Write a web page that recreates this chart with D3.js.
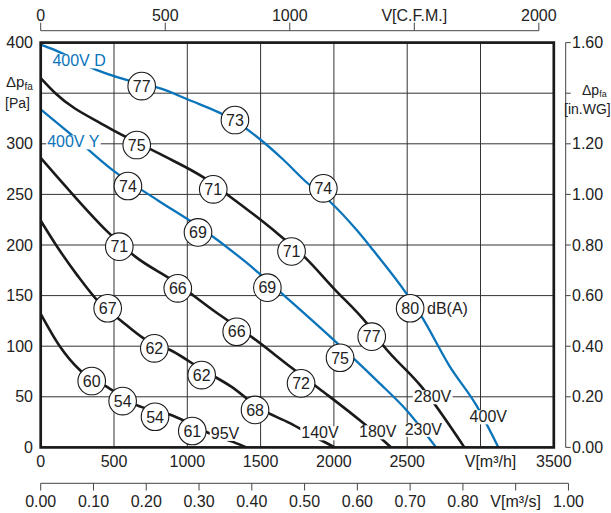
<!DOCTYPE html>
<html><head><meta charset="utf-8">
<script src="https://cdn.jsdelivr.net/npm/d3@7"></script>
<style>
body{margin:0;background:#fff}
svg{display:block;font-family:"Liberation Sans",Arial,Helvetica,sans-serif}
</style>
</head><body>
<svg id="c" width="611" height="513"></svg>
<script>
// ---------- tick values & labels ----------
const flowTicks = [0, 500, 1000, 1500, 2000, 2500, 3000, 3500];
const flowLabels = ["0", "500", "1000", "1500", "2000", "2500", "", "3500"];
const flowAxisTitle = "V[m³/h]";
const pressTicks = [0, 50, 100, 150, 200, 250, 300, 350, 400];
const pressLabels = ["0", "50", "100", "150", "200", "250", "300", "", "400"];
const cfmTicks = [0, 500, 1000, 1500, 2000];
const cfmLabels = ["0", "500", "1000", "V[C.F.M.]", "2000"];
const m3sTicks = [0, 0.1, 0.2, 0.3, 0.4, 0.5, 0.6, 0.7, 0.8, 0.9, 1.0];
const m3sLabels = ["0.00", "0.10", "0.20", "0.30", "0.40", "0.50", "0.60", "0.70", "0.80", "V[m³/s]", "1.00"];
const inwgTicks = [0, 0.2, 0.4, 0.6, 0.8, 1.0, 1.2, 1.4, 1.6];
const inwgLabels = ["0.00", "0.20", "0.40", "0.60", "0.80", "1.00", "1.20", "", "1.60"];

// ---------- characteristic curves [m³/h, Pa] ----------
const curve400D = [[0,398],[90,393],[380,373],[690,359],[810,355],[1000,344],[1320,323],[1500,304],[1650,285],[1813,262],[1972,243],[2154,215],[2267,195],[2495,152],[2600,129],[2790,80],[2970,42],[3122,0]];
const curve280 = [[0,365],[100,350],[450,317],[813,290],[1108,267],[1290,248],[1585,215],[1801,188],[2000,157],[2222,123],[2335,101],[2597,60],[2890,0]];
const curve400Y = [[0,334],[200,310],[500,273],[800,244],[1100,216],[1400,183],[1700,145],[2000,106],[2300,65],[2500,36],[2697,0]];
const curve180 = [[0,286],[200,253],[450,214],[650,188],[900,165],[1200,133],[1450,108],[1700,80],[1900,58],[2200,24],[2390,0]];
const curve140 = [[0,224],[100,201],[250,170],[400,143],[550,125],[700,108],[900,95],[1100,77],[1300,60],[1500,38],[1700,24],[1850,12],[2006,0]];
const curve95 = [[0,132],[130,100],[270,76],[450,60],[650,42],[870,33],[1000,25],[1150,14],[1320,5],[1404,0]];

// ---------- sound level markers [m³/h, Pa, dB(A)] ----------
const db400D = [[689,357,77],[1325,323.5,73],[1928,256,74],[2520,137.5,80]];
const db280 = [[655,298.8,75],[1177,255,71],[1711,193.6,71],[2258,109.4,77]];
const db400Y = [[595,258.3,74],[1073,212.4,69],[1546,157.8,69],[2042,88.6,75]];
const db180 = [[536,198.3,71],[935,157.2,66],[1337,114.3,66],[1776,63.3,72]];
const db140 = [[457,137.5,67],[775,97.9,62],[1098,71.5,62],[1462,37,68]];
const db95 = [[348,65.6,60],[559,45.8,54],[780,30.3,54],[1034,16.2,61]];

// ---------- curve labels [text, m³/h, Pa] ----------
const blueLabels = [["400V D",262,382],["400V Y",222,302]];
const voltLabels = [["280V",2673,50.1],["230V",2610,17.9],["180V",2299,15.5],["140V",1905,14.5],["95V",1257,13.9],["400V",3053,30.3]];
const unitLabel = ["dB(A)",2635,137.7];

const BLUE = "#0a74bb", BLACK = "#1a1a1a", TXT = "#222";

const svg = d3.select("#c");
const x = d3.scaleLinear().domain([0,3500]).range([40.7,553.8]);
const y = d3.scaleLinear().domain([0,400]).range([447.4,42.6]);
const xc = d3.scaleLinear().domain([0,2000]).range([x(0), x(2000*1.69901)]);
const xs = d3.scaleLinear().domain([0,1]).range([x(0), x(3600)]);
const yi = d3.scaleLinear().domain([0,1.6]).range([y(0), y(400)]);

// grid
const g = svg.append("g");
g.selectAll(".vg").data(flowTicks.slice(1,-1)).join("line")
  .attr("x1",d=>x(d)).attr("x2",d=>x(d)).attr("y1",y(0)).attr("y2",y(400))
  .attr("stroke","#333").attr("stroke-width",1);
g.selectAll(".hg").data(pressTicks.slice(1,-1)).join("line")
  .attr("y1",d=>y(d)).attr("y2",d=>y(d)).attr("x1",x(0)).attr("x2",x(3500))
  .attr("stroke","#333").attr("stroke-width",1);

// curves
const line = d3.line().x(d=>x(d[0])).y(d=>y(d[1])).curve(d3.curveMonotoneX);
const curves = [
  {d:curve95,c:BLACK,w:2.6},{d:curve140,c:BLACK,w:2.6},{d:curve180,c:BLACK,w:2.6},
  {d:curve400Y,c:BLUE,w:2.3},{d:curve280,c:BLACK,w:2.6},{d:curve400D,c:BLUE,w:2.3}
];
svg.append("g").selectAll("path").data(curves).join("path")
  .attr("d",d=>line(d.d)).attr("fill","none").attr("stroke",d=>d.c).attr("stroke-width",d=>d.w);

// labels with white backgrounds
function boxedText(parent, txt, cx, cy, color, anchor){
  const gg = parent.append("g");
  const t = gg.append("text").attr("x",cx).attr("y",cy).attr("dy","0.35em")
    .attr("text-anchor",anchor||"middle").attr("font-size",16).attr("fill",color).text(txt);
  const b = t.node().getBBox();
  gg.insert("rect","text").attr("x",b.x-1).attr("y",b.y+2).attr("width",b.width+2).attr("height",b.height-3).attr("fill","#fff");
}
const lg = svg.append("g");
blueLabels.forEach(l=>boxedText(lg,l[0],x(l[1]),y(l[2]),BLUE));
voltLabels.forEach(l=>boxedText(lg,l[0],x(l[1]),y(l[2]),TXT));
lg.append("text").attr("x",x(unitLabel[1])).attr("y",y(unitLabel[2])).attr("dy","0.35em")
  .attr("font-size",16).attr("fill",TXT).text(unitLabel[0]);

// dB circles
const allDb = [].concat(db400D,db280,db400Y,db180,db140,db95);
const cg = svg.append("g").selectAll("g").data(allDb).join("g")
  .attr("transform",d=>`translate(${x(d[0])},${y(d[1])})`);
cg.append("circle").attr("r",13.8).attr("fill","#fff").attr("stroke","#1a1a1a").attr("stroke-width",1.1);
cg.append("text").attr("text-anchor","middle").attr("dy","0.36em").attr("font-size",16).attr("fill",TXT).text(d=>d[2]);

// frame
svg.append("rect").attr("x",x(0)).attr("y",y(400)).attr("width",x(3500)-x(0)).attr("height",y(0)-y(400))
  .attr("fill","none").attr("stroke","#1a1a1a").attr("stroke-width",2.7);

// left axis labels
svg.append("g").selectAll("text").data(pressTicks).join("text")
  .attr("x",33).attr("y",d=>y(d)).attr("dy","0.35em").attr("text-anchor","end")
  .attr("font-size",16).attr("fill",TXT).text((d,i)=>pressLabels[i]);
const lt = svg.append("text").attr("x",6).attr("y",87).attr("font-size",15).attr("fill",TXT);
lt.append("tspan").text("Δp");
lt.append("tspan").attr("font-size",10).attr("dy",3).text("fa");
svg.append("text").attr("x",5).attr("y",108).attr("font-size",14).attr("fill",TXT).text("[Pa]");

// bottom m3/h labels
svg.append("g").selectAll("text").data(flowTicks).join("text")
  .attr("x",d=>x(d)).attr("y",466.5).attr("text-anchor","middle")
  .attr("font-size",16).attr("fill",TXT).text((d,i)=>flowLabels[i]);
svg.append("text").attr("x",x(3000)+10).attr("y",466.5).attr("text-anchor","middle")
  .attr("font-size",16).attr("fill",TXT).text(flowAxisTitle);

// top CFM axis
const topAx = svg.append("g").attr("stroke","#444").attr("stroke-width",1);
topAx.append("line").attr("x1",xc(0)).attr("x2",xc(2000)).attr("y1",30.7).attr("y2",30.7);
topAx.selectAll(".t").data(cfmTicks).join("line")
  .attr("x1",d=>xc(d)).attr("x2",d=>xc(d)).attr("y1",30.7).attr("y2",22.7);
svg.append("g").selectAll("text").data(cfmTicks).join("text")
  .attr("x",d=>xc(d)).attr("y",20.5).attr("text-anchor","middle")
  .attr("font-size",16).attr("fill",TXT).text((d,i)=>cfmLabels[i]);

// bottom m3/s axis
const botAx = svg.append("g").attr("stroke","#444").attr("stroke-width",1);
botAx.append("line").attr("x1",xs(0)).attr("x2",xs(1)).attr("y1",483.3).attr("y2",483.3);
botAx.selectAll(".t").data(m3sTicks).join("line")
  .attr("x1",d=>xs(d)).attr("x2",d=>xs(d)).attr("y1",483.3).attr("y2",490.5);
svg.append("g").selectAll("text").data(m3sTicks).join("text")
  .attr("x",d=>xs(d)).attr("y",506.5).attr("text-anchor","middle")
  .attr("font-size",16).attr("fill",TXT).text((d,i)=>m3sLabels[i]);

// right in.WG axis
const rx = 565.7;
const rgtAx = svg.append("g").attr("stroke","#444").attr("stroke-width",1);
rgtAx.append("line").attr("x1",rx).attr("x2",rx).attr("y1",yi(0)).attr("y2",yi(1.6));
rgtAx.selectAll(".t").data(inwgTicks).join("line")
  .attr("x1",rx).attr("x2",rx+5).attr("y1",d=>yi(d)).attr("y2",d=>yi(d));
svg.append("g").selectAll("text").data(inwgTicks).join("text")
  .attr("x",572).attr("y",d=>yi(d)).attr("dy","0.35em")
  .attr("font-size",16).attr("fill",TXT).text((d,i)=>inwgLabels[i]);
const rt = svg.append("text").attr("x",582).attr("y",95).attr("font-size",14).attr("fill",TXT);
rt.append("tspan").text("Δp");
rt.append("tspan").attr("font-size",9).attr("dy",2).text("fa");
svg.append("text").attr("x",564).attr("y",114).attr("font-size",14).attr("fill",TXT).text("[in.WG]");
</script>
</body></html>
